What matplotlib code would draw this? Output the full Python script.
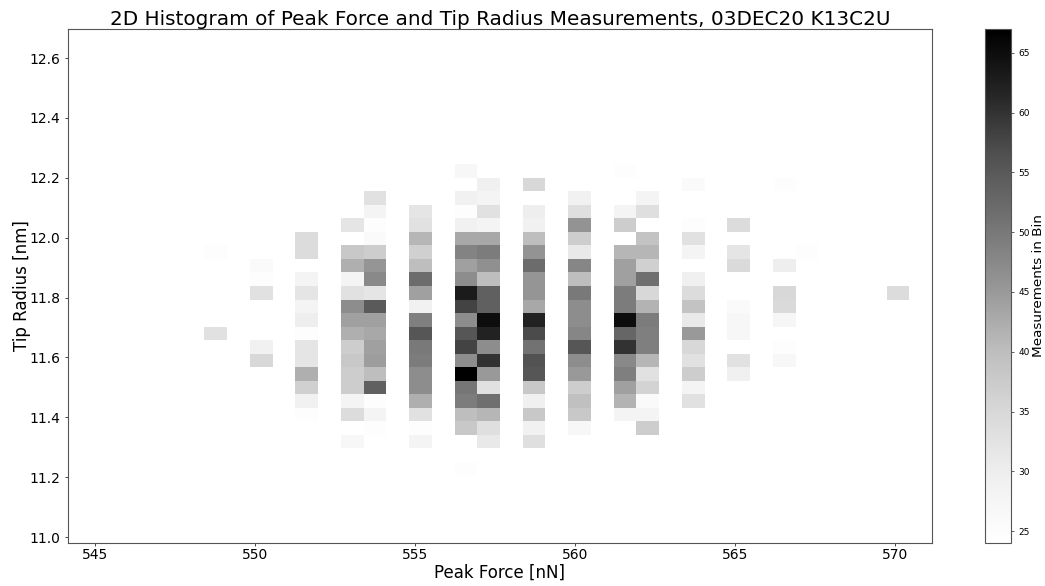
import numpy as np
import matplotlib
matplotlib.use('Agg')
import matplotlib.pyplot as plt

# histogram bins (38 x 38)
force_lim = (544.15, 571.16)
radius_lim = (10.98, 12.697)
n_bins = 38

# counts per force column: column index -> {radius row: measurements}
col_06 = {21: 25, 15: 33}
col_08 = {20: 26, 19: 25, 18: 33, 14: 29, 13: 35}
col_10 = {22: 34, 21: 34, 19: 28, 18: 32, 17: 28, 16: 30, 15: 25, 14: 32, 13: 32, 12: 42, 11: 36.5, 10: 29, 9: 25}
col_12 = {23: 32, 21: 38, 20: 42, 19: 28, 18: 33, 17: 47, 16: 44, 15: 42, 14: 37, 13: 38, 12: 37, 11: 37, 10: 28, 9: 34, 7: 27}
col_13 = {25: 33, 24: 28, 23: 25, 22: 26, 21: 37, 20: 45.5, 19: 47.5, 18: 32, 17: 55, 16: 44, 15: 43, 14: 44, 13: 44.5,
          12: 40, 11: 54, 10: 25, 9: 28, 8: 25}
col_15 = {24: 32, 23: 33, 22: 41, 21: 36.5, 20: 40, 19: 52, 18: 44, 17: 29, 16: 49, 15: 55.5, 14: 50, 13: 49.5, 12: 47,
          11: 47, 10: 42, 9: 33, 8: 25, 7: 28}
col_17 = {27: 27, 26: 24, 25: 29, 24: 25, 23: 29, 22: 43, 21: 48.5, 20: 44, 19: 47, 18: 63, 17: 58, 16: 47, 15: 55.5,
          14: 58, 13: 47, 12: 67, 11: 50.5, 10: 49.5, 9: 40, 8: 38, 5: 25}
col_18 = {26: 29.5, 25: 28, 24: 33, 23: 28, 22: 43, 21: 49.5, 20: 46.5, 19: 40, 18: 54, 17: 54, 16: 65, 15: 62, 14: 47,
          13: 60, 12: 45, 11: 33, 10: 51.5, 9: 41, 8: 33.5, 7: 31}
col_20 = {26: 35, 24: 30, 23: 29, 22: 40, 21: 46, 20: 52, 19: 45.5, 18: 45.5, 17: 43, 16: 62, 15: 57, 14: 51, 13: 56,
          12: 55.5, 11: 38, 10: 29.5, 9: 38, 8: 29, 7: 33.5}
col_22 = {25: 29, 24: 33.5, 23: 46, 22: 37, 21: 31, 20: 48, 19: 40, 18: 50, 17: 47, 16: 47, 15: 48, 14: 55.5, 13: 47,
          12: 45, 11: 37, 10: 39.5, 9: 38, 8: 27}
col_24 = {27: 25, 24: 28, 23: 37, 21: 41, 20: 44, 19: 44, 18: 49.5, 17: 49.5, 16: 65, 15: 53, 14: 60, 13: 47.5, 12: 49,
          11: 44, 10: 41.5, 9: 28}
col_25 = {25: 28, 24: 33.5, 22: 39, 21: 41, 20: 36.5, 19: 51.5, 18: 35, 17: 41.5, 16: 49.5, 15: 49, 14: 49, 13: 41,
          12: 33, 11: 36, 10: 26, 9: 28, 8: 37}
col_27 = {26: 26, 23: 25, 22: 33, 21: 28, 19: 29.5, 18: 34, 17: 39, 16: 31, 15: 45, 14: 35, 13: 33, 12: 37, 11: 28, 10: 33}
col_29 = {23: 34, 21: 32, 20: 34.5, 17: 26, 16: 27, 15: 27, 13: 33, 12: 29.5}
col_31 = {26: 25, 20: 30, 18: 35, 17: 34.5, 16: 27.5, 14: 25, 13: 27}
col_32 = {21: 25}
col_36 = {18: 34}

columns = {6: col_06, 8: col_08, 10: col_10, 12: col_12, 13: col_13, 15: col_15, 17: col_17, 18: col_18,
           20: col_20, 22: col_22, 24: col_24, 25: col_25, 27: col_27, 29: col_29, 31: col_31, 32: col_32, 36: col_36}

counts = np.full((n_bins, n_bins), np.nan)
for c, rows in columns.items():
    for r, v in rows.items():
        counts[r, c] = v

x_edges = np.linspace(force_lim[0], force_lim[1], n_bins + 1)
y_edges = np.linspace(radius_lim[0], radius_lim[1], n_bins + 1)

fig = plt.figure(figsize=(10.45, 5.86), dpi=100)
ax = fig.add_axes([68 / 1045, 1 - 543 / 586, 864 / 1045, 514 / 586])
mesh = ax.pcolormesh(x_edges, y_edges, counts, cmap='Greys', vmin=24, vmax=67)
ax.set_xlim(force_lim)
ax.set_ylim(radius_lim)
ax.set_xticks(np.arange(545, 571, 5))
ax.set_yticks(np.arange(11.0, 12.7, 0.2))
ax.tick_params(labelsize=10, width=0.7, length=2.3, color='#444444')
ax.tick_params(axis='x', pad=1.5)
ax.tick_params(axis='y', pad=3)
for s in ax.spines.values():
    s.set_linewidth(0.8)
    s.set_color('#555555')
ax.set_xlabel('Peak Force [nN]', fontsize=12, labelpad=1)
ax.set_ylabel('Tip Radius [nm]', fontsize=12, labelpad=-1)
ax.set_title('2D Histogram of Peak Force and Tip Radius Measurements, 03DEC20 K13C2U', fontsize=14.4, pad=3)

cax = fig.add_axes([985 / 1045, 1 - 543 / 586, 26 / 1045, 514 / 586])
cbar = fig.colorbar(mesh, cax=cax)
cbar.set_ticks(np.arange(25, 66, 5))
cbar.ax.tick_params(labelsize=6.5, length=2, width=0.6, color='#444444')
cbar.outline.set_linewidth(0.8)
cbar.outline.set_edgecolor('#555555')
cbar.set_label('Measurements in Bin', fontsize=9.7, labelpad=1)

fig.savefig('out.png', dpi=100)
